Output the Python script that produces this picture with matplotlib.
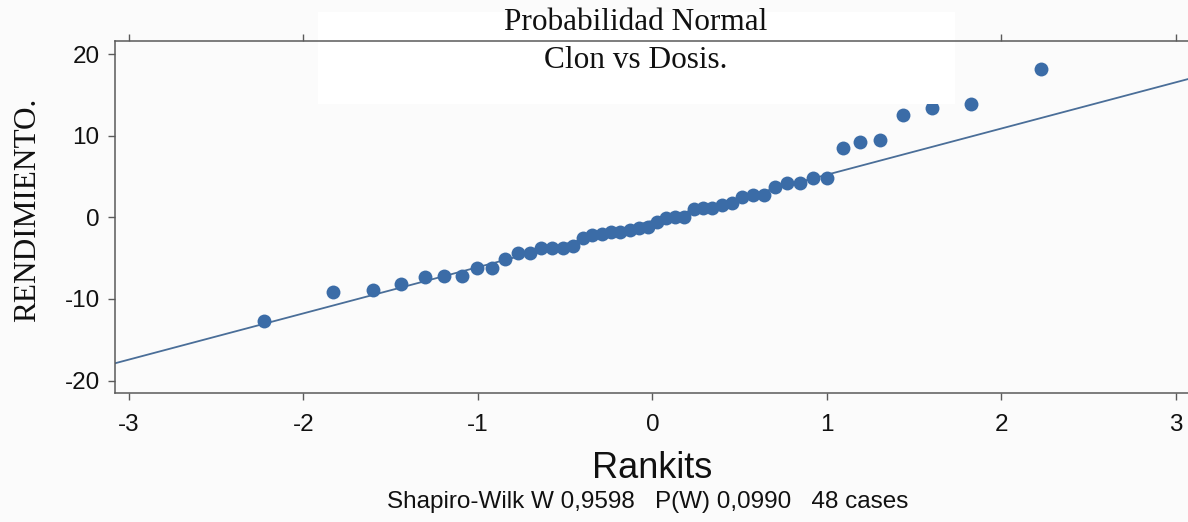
import matplotlib
matplotlib.use('Agg')
import matplotlib.pyplot as plt
from matplotlib.patches import Rectangle

# ---- data ----
rankits = [-2.227, -1.829, -1.603, -1.439, -1.306, -1.192, -1.093, -1.003,
           -0.920, -0.844, -0.772, -0.703, -0.638, -0.576, -0.515, -0.457,
           -0.400, -0.344, -0.290, -0.236, -0.183, -0.130, -0.078, -0.026,
           0.026, 0.078, 0.130, 0.183, 0.236, 0.290, 0.344, 0.400,
           0.457, 0.515, 0.576, 0.638, 0.703, 0.772, 0.844, 0.920,
           1.003, 1.093, 1.192, 1.306, 1.439, 1.603, 1.829, 2.227]
rendimiento = [-12.7, -9.1, -8.9, -8.15, -7.25, -7.13, -7.13, -6.23,
               -6.19, -5.12, -4.39, -4.39, -3.77, -3.70, -3.70, -3.46,
               -2.48, -2.14, -2.06, -1.81, -1.74, -1.53, -1.32, -1.13,
               -0.58, -0.05, 0.0, 0.0, 1.04, 1.13, 1.13, 1.53,
               1.81, 2.55, 2.76, 2.76, 3.77, 4.19, 4.19, 4.80,
               4.80, 8.55, 9.29, 9.50, 12.56, 13.38, 13.87, 18.2]
line_intercept = -0.44
line_slope = 5.66

x_ticks = [-3, -2, -1, 0, 1, 2, 3]
x_tick_labels = ['-3', '-2', '-1', '0', '1', '2', '3']
y_ticks = [-20, -10, 0, 10, 20]
y_tick_labels = ['-20', '-10', '0', '10', '20']
title_lines = ['Probabilidad Normal', 'Clon vs Dosis.']
x_label = 'Rankits'
y_label = 'RENDIMIENTO.'
stats_text = 'Shapiro-Wilk W 0,9598   P(W) 0,0990   48 cases'

# ---- figure ----
W, H = 1188, 522
bg = '#fbfbfb'
pt_color = '#3b6ca7'
line_color = '#4a6e98'
axis_color = '#5a5a5a'

fig = plt.figure(figsize=(W / 100, H / 100), dpi=100, facecolor=bg)
ax = fig.add_axes([115 / W, 1 - 393.3 / H, (W - 115) / W, (393.3 - 41) / H])
ax.set_facecolor(bg)
ax.set_xlim(-3.08, 3.07)
ax.set_ylim(-21.55, 21.6)

ax.axline((0, line_intercept), slope=line_slope, color=line_color, lw=1.3, zorder=2)
ax.scatter(rankits, rendimiento, s=100, color=pt_color, linewidths=0, zorder=3)

for side in ['left', 'bottom', 'top']:
    ax.spines[side].set_color(axis_color)
    ax.spines[side].set_linewidth(1.1)
    ax.spines[side].set_zorder(6)
ax.spines['right'].set_visible(False)

ax.set_xticks(x_ticks)
ax.set_xticklabels(x_tick_labels, family='Liberation Sans', fontsize=17.5)
ax.set_yticks(y_ticks)
ax.set_yticklabels(y_tick_labels, family='Liberation Sans', fontsize=17.5)
ax.tick_params(axis='both', direction='out', length=5, width=1, color=axis_color,
               labelcolor='#111111')
ax.tick_params(axis='x', top=True, labeltop=False, pad=10)
ax.tick_params(axis='y', pad=6)

# white title box over the plot (covers the points, under the spine)
ax.add_patch(Rectangle((318 / W, 1 - 104 / H), (955 - 318) / W, (104 - 12) / H,
                       transform=fig.transFigure, facecolor='white',
                       edgecolor='none', clip_on=False, zorder=5))

fig.text(636 / W, 1 - 30 / H, title_lines[0], ha='center', va='baseline',
         family='Liberation Serif', fontsize=22.5, color='#111111', zorder=7)
fig.text(636 / W, 1 - 68 / H, title_lines[1], ha='center', va='baseline',
         family='Liberation Serif', fontsize=22.5, color='#111111', zorder=7)
fig.text(28 / W, 1 - 210 / H, y_label, ha='center', va='center', rotation=90,
         family='Liberation Serif', fontsize=22.5, color='#111111')
fig.text(652 / W, 1 - 478 / H, x_label, ha='center', va='baseline',
         family='Liberation Sans', fontsize=26, color='#111111')
fig.text(648 / W, 1 - 508 / H, stats_text, ha='center', va='baseline',
         family='Liberation Sans', fontsize=17.5, color='#111111')

fig.savefig('out.png', dpi=100, facecolor=bg)
